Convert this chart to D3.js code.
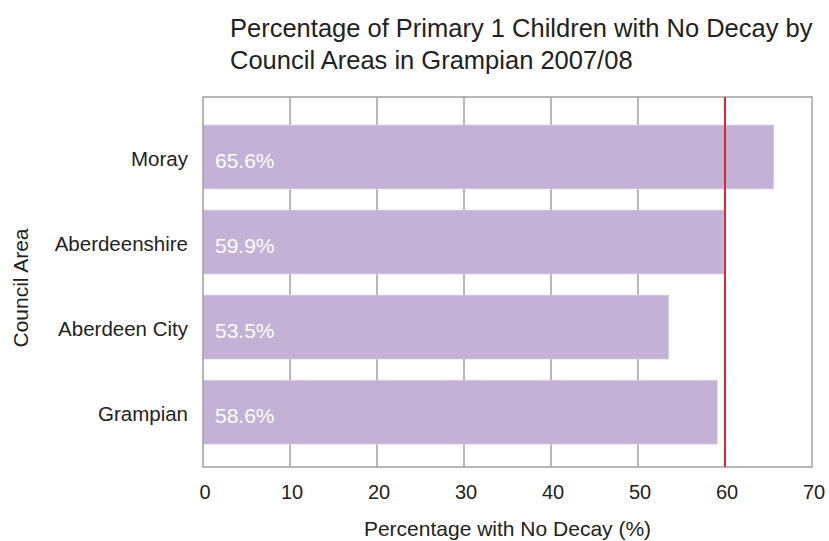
<!DOCTYPE html>
<html>
<head>
<meta charset="utf-8">
<script src="https://cdn.jsdelivr.net/npm/d3@7"></script>
<style>
  body { margin: 0; background: #fff; }
  text { font-family: "Liberation Sans", Arial, sans-serif; fill: #222; }
</style>
</head>
<body>
<div id="chart"></div>
<script>
var width = 829,
	height = 541;

var areas = ['Moray', 'Aberdeenshire', 'Aberdeen City', 'Grampian'];
var values = [65.6, 59.9, 53.5, 59.1];
var labels = ['65.6%', '59.9%', '53.5%', '58.6%'];
var xTicks = [0, 10, 20, 30, 40, 50, 60, 70];
var target = 60;

var plotLeft = 203, plotRight = 812, plotTop = 97, plotBottom = 467;

var x = d3.scaleLinear().domain([0, 70]).range([plotLeft, plotRight]);
var y = d3.scaleBand().domain(areas).range([plotTop, plotBottom])
	.paddingInner(0.25).paddingOuter(0.3).align(0.55);

var svg = d3.select('#chart').append('svg')
	.attr('width', width)
	.attr('height', height);

// title
svg.append('text').attr('x', 230).attr('y', 37)
	.style('font-size', '25.5px')
	.text('Percentage of Primary 1 Children with No Decay by');
svg.append('text').attr('x', 230).attr('y', 69)
	.style('font-size', '25.5px')
	.text('Council Areas in Grampian 2007/08');

// gridlines
svg.append('g').selectAll('line')
	.data(xTicks.slice(1, -1))
	.enter().append('line')
	.attr('x1', d => x(d)).attr('x2', d => x(d))
	.attr('y1', plotTop).attr('y2', plotBottom)
	.attr('stroke', '#a0a0a0')
	.attr('stroke-width', 1.5);

// bars
svg.append('g').selectAll('rect')
	.data(areas)
	.enter().append('rect')
	.attr('x', x(0))
	.attr('y', d => y(d))
	.attr('width', (d, i) => x(values[i]) - x(0))
	.attr('height', y.bandwidth())
	.attr('fill', '#c3b1d6')
	.attr('stroke', '#d6c9e4')
	.attr('stroke-width', 0.8);

// value labels
svg.append('g').selectAll('text')
	.data(areas)
	.enter().append('text')
	.attr('x', x(0) + 12)
	.attr('y', d => y(d) + y.bandwidth() / 2 + 11)
	.style('font-size', '21px')
	.style('fill', '#fff')
	.text((d, i) => labels[i]);

// frame
svg.append('rect')
	.attr('x', plotLeft).attr('y', plotTop)
	.attr('width', plotRight - plotLeft).attr('height', plotBottom - plotTop)
	.attr('fill', 'none')
	.attr('stroke', '#a0a0a0')
	.attr('stroke-width', 1.5);

// target line
svg.append('line')
	.attr('x1', x(target)).attr('x2', x(target))
	.attr('y1', plotTop).attr('y2', plotBottom)
	.attr('stroke', '#d42a3c')
	.attr('stroke-width', 2);

// x tick labels
svg.append('g').selectAll('text')
	.data(xTicks)
	.enter().append('text')
	.attr('x', d => x(d) + 2)
	.attr('y', 499)
	.attr('text-anchor', 'middle')
	.style('font-size', '20px')
	.text(d => d);

// category labels
svg.append('g').selectAll('text')
	.data(areas)
	.enter().append('text')
	.attr('x', 188)
	.attr('y', d => y(d) + y.bandwidth() / 2 + 9)
	.attr('text-anchor', 'end')
	.style('font-size', '20.5px')
	.text(d => d);

// axis titles
svg.append('text')
	.attr('x', (plotLeft + plotRight) / 2)
	.attr('y', 536)
	.attr('text-anchor', 'middle')
	.style('font-size', '21px')
	.text('Percentage with No Decay (%)');

svg.append('text')
	.attr('transform', 'translate(28,288) rotate(-90)')
	.attr('text-anchor', 'middle')
	.style('font-size', '21px')
	.text('Council Area');
</script>
</body>
</html>
